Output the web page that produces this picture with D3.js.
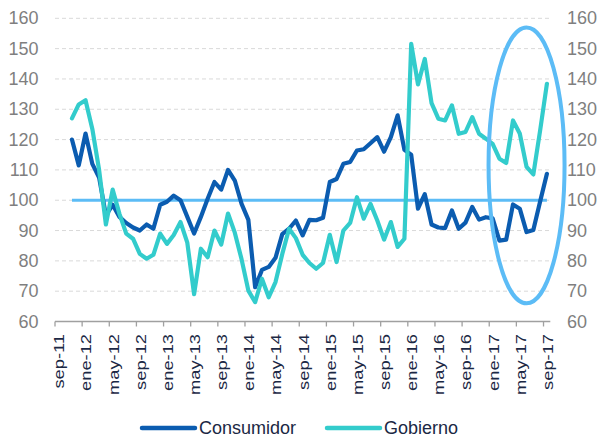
<!DOCTYPE html>
<html>
<head>
<meta charset="utf-8">
<title>Consumidor vs Gobierno</title>
<script src="https://cdn.jsdelivr.net/npm/d3@7"></script>
<style>
  body { margin: 0; background: #fff; }
  text { font-family: "Liberation Sans", Arial, sans-serif; }
</style>
</head>
<body>
<div id="chart"></div>
<script>

// month names used to build the category axis (sep-11 .. sep-17)
var meses = ["ene","feb","mar","abr","may","jun","jul","ago","sep","oct","nov","dic"];
var tickLabels = ["sep-11","ene-12","may-12","sep-12","ene-13","may-13","sep-13","ene-14","may-14",
                  "sep-14","ene-15","may-15","sep-15","ene-16","may-16","sep-16","ene-17","may-17","sep-17"];
var yTicks = [60, 70, 80, 90, 100, 110, 120, 130, 140, 150, 160];

// series start at nov-11
var seriesStart = "nov-11";
var consumidor = [120, 111.5, 122, 112, 107.5, 95, 98.5, 94.5, 92.5, 91, 90, 92, 90.6, 98.5,
  99.5, 101.5, 100, 94.5, 89, 94.5, 100.5, 106, 103.5, 110, 106.5, 98.8, 93.5, 71.3, 77, 78,
  81, 88.8, 90.6, 93.3, 88.4, 93.5, 93.4, 94.2, 106, 107, 112, 112.6, 116.4, 116.8, 118.8, 120.8,
  116, 120.8, 128, 116.6, 115, 97.2, 102, 92, 91, 90.8, 96.6, 90.6, 92.6, 97.8, 93.6, 94.4, 94,
  86.7, 87, 98.6, 97.2, 89.5, 90.2, 99.6, 108.7];
var gobierno = [127, 131.6, 133, 123.5, 110, 92, 103.5, 95.5, 89, 87.3, 82.3, 80.7, 82, 89,
  85.6, 88.5, 92.8, 86, 69, 84, 81.2, 90, 85.4, 95.6, 89.3, 80.5, 70.2, 66.4, 74.1, 68, 73,
  82.3, 90.6, 87.5, 82, 79.3, 77.4, 79.3, 88.6, 79.6, 90, 92.5, 101, 93.9, 98.8, 93.3, 87,
  92.8, 84.6, 87.3, 151.6, 138.2, 146.6, 132, 126.9, 126.3, 131.3, 121.9, 122.5, 127.4, 121.9,
  120.3, 118.6, 113.7, 112.3, 126.3, 122, 111, 108.5, 123, 138.4];
var reference = 100;
// highlight ellipse, in data units
var highlight = {center: "jun-17", value: 111.5, halfMonths: 5.6, halfValue: 45.5};

var categories = [];
for (var i = 0; i < 73; i++) {
  var m = (8 + i) % 12, yr = 11 + Math.floor((8 + i) / 12);
  categories.push(meses[m] + "-" + yr);
}
var first = categories.indexOf(seriesStart);
var dataC = consumidor.map(function(v, i) { return {cat: categories[first + i], v: v}; });
var dataG = gobierno.map(function(v, i) { return {cat: categories[first + i], v: v}; });

var width = 599, height = 442;
var svg = d3.select("#chart").append("svg")
    .attr("width", width)
    .attr("height", height);

var x = d3.scaleBand().domain(categories).range([55, 550.3]).padding(0);
var y = d3.scaleLinear().domain([60, 160]).range([321.5, 18.3]);
var cx = function(c) { return x(c) + x.bandwidth() / 2; };

// gridlines
svg.append("g").selectAll("line")
  .data(yTicks.filter(function(t) { return t > 60; }))
  .enter().append("line")
    .attr("x1", 55).attr("x2", 550)
    .attr("y1", function(d) { return y(d); })
    .attr("y2", function(d) { return y(d); })
    .attr("stroke", "#d9d9d9")
    .attr("stroke-width", 1)
    .attr("stroke-dasharray", "4,3");

// y labels both sides
var yl = svg.append("g").attr("fill", "#7f7f7f").style("font-size", "18px");
yl.selectAll("text.l").data(yTicks).enter().append("text")
    .attr("class", "l")
    .attr("x", 38.5).attr("y", function(d) { return y(d); })
    .attr("text-anchor", "end").attr("dominant-baseline", "central")
    .text(function(d) { return d; });
yl.selectAll("text.r").data(yTicks).enter().append("text")
    .attr("class", "r")
    .attr("x", 567).attr("y", function(d) { return y(d); })
    .attr("dominant-baseline", "central")
    .text(function(d) { return d; });

// x axis
var ax = svg.append("g").attr("stroke", "#a0a0a0").attr("stroke-width", 1.3);
ax.append("line").attr("x1", 55).attr("x2", 550.3).attr("y1", y(60)).attr("y2", y(60));
ax.selectAll("line.t").data(tickLabels).enter().append("line")
    .attr("class", "t")
    .attr("x1", function(d) { return x(d); }).attr("x2", function(d) { return x(d); })
    .attr("y1", y(60)).attr("y2", y(60) + 5);

svg.append("g").selectAll("text").data(tickLabels).enter().append("text")
    .attr("transform", function(d) { return "translate(" + (cx(d) + 1) + ",334) rotate(-90) scale(1.22,1)"; })
    .attr("text-anchor", "end")
    .attr("dominant-baseline", "central")
    .attr("fill", "#1b2844")
    .style("font-size", "15px")
    .text(function(d) { return d; });

// reference line at 100
svg.append("line")
    .attr("x1", cx(seriesStart)).attr("x2", cx(categories[categories.length - 1]))
    .attr("y1", y(reference)).attr("y2", y(reference))
    .attr("stroke", "#5cbcf6").attr("stroke-width", 3);

var line = d3.line()
    .x(function(d) { return cx(d.cat); })
    .y(function(d) { return y(d.v); });

svg.append("path").datum(dataC)
    .attr("d", line).attr("fill", "none")
    .attr("stroke", "#0b5cb0").attr("stroke-width", 4.2)
    .attr("stroke-linejoin", "round").attr("stroke-linecap", "round");
svg.append("path").datum(dataG)
    .attr("d", line).attr("fill", "none")
    .attr("stroke", "#33cccc").attr("stroke-width", 4.2)
    .attr("stroke-linejoin", "round").attr("stroke-linecap", "round");

// highlight ellipse
svg.append("ellipse")
    .attr("cx", cx(highlight.center))
    .attr("cy", y(highlight.value))
    .attr("rx", highlight.halfMonths * x.bandwidth())
    .attr("ry", y(highlight.value - highlight.halfValue) - y(highlight.value))
    .attr("fill", "none")
    .attr("stroke", "#5cbcf6").attr("stroke-width", 4);

// legend
var legend = [{name: "Consumidor", color: "#0b5cb0", x: 142}, {name: "Gobierno", color: "#33cccc", x: 327}];
var lg = svg.append("g").selectAll("g").data(legend).enter().append("g");
lg.append("line")
    .attr("x1", function(d) { return d.x; }).attr("x2", function(d) { return d.x + 53; })
    .attr("y1", 428).attr("y2", 428)
    .attr("stroke", function(d) { return d.color; }).attr("stroke-width", 4.5)
    .attr("stroke-linecap", "round");
lg.append("text")
    .attr("x", function(d) { return d.x + 57; }).attr("y", 428)
    .attr("dominant-baseline", "central")
    .attr("fill", "#1b2844")
    .style("font-size", "18px")
    .text(function(d) { return d.name; });

</script>
</body>
</html>
